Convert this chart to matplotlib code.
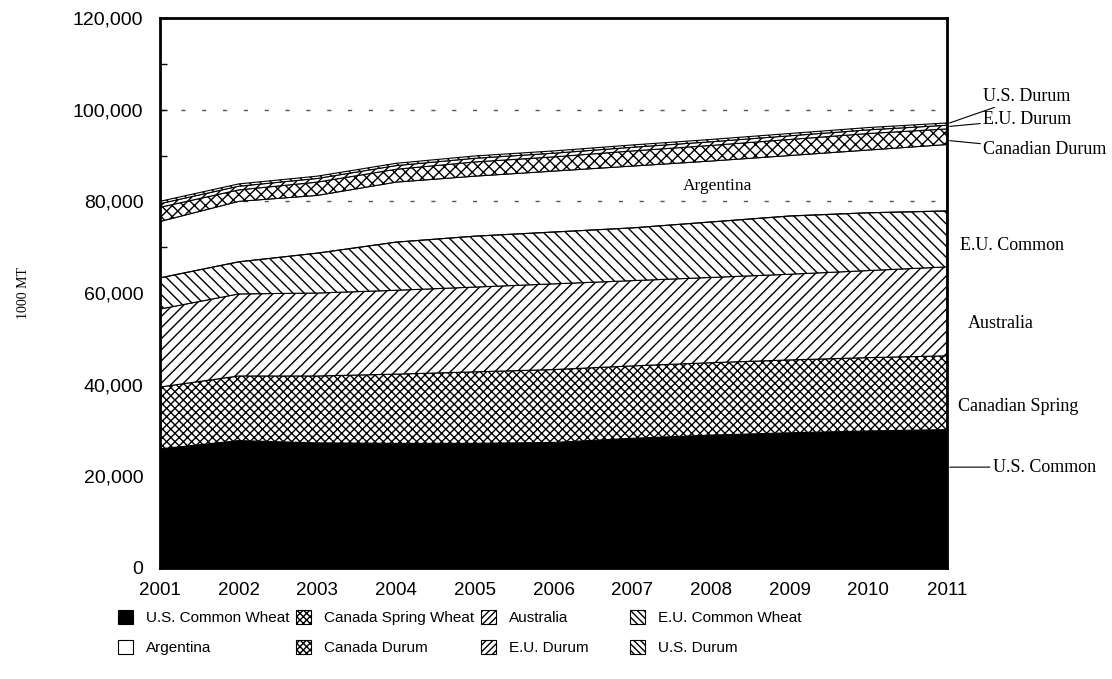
import numpy as np
import matplotlib
matplotlib.use("Agg")
import matplotlib.pyplot as plt
from matplotlib.patches import Patch
from matplotlib.ticker import MultipleLocator, FuncFormatter

years = [2001, 2002, 2003, 2004, 2005, 2006, 2007, 2008, 2009, 2010, 2011]
us_common = [26000, 27800, 27300, 27200, 27200, 27400, 28300, 29000, 29500, 29900, 30200]
canada_spring = [13500, 14100, 14600, 15100, 15600, 15900, 15800, 15800, 15900, 16000, 16100]
australia = [17000, 17900, 18100, 18300, 18500, 18700, 18600, 18600, 18700, 19000, 19400]
eu_common = [6800, 7000, 8700, 10500, 11100, 11300, 11500, 12100, 12700, 12600, 12200]
argentina = [12300, 13200, 12600, 13100, 13100, 13300, 13500, 13300, 13200, 13700, 14500]
canada_durum = [3100, 2500, 2900, 2800, 3100, 3100, 3300, 3400, 3500, 3600, 3400]
eu_durum = [800, 800, 800, 800, 800, 800, 800, 800, 800, 800, 800]
us_durum = [500, 500, 500, 500, 500, 500, 500, 500, 500, 500, 500]

series = [
    ("U.S. Common Wheat", us_common, "black", "", ""),
    ("Canada Spring Wheat", canada_spring, "white", "xxxx", "xxxxx"),
    ("Australia", australia, "white", "///", "/////"),
    ("E.U. Common Wheat", eu_common, "white", "\\\\\\", "\\\\\\\\\\"),
    ("Argentina", argentina, "none", "", ""),
    ("Canada Durum", canada_durum, "white", "xxx", "xxxxx"),
    ("E.U. Durum", eu_durum, "white", "///", "/////"),
    ("U.S. Durum", us_durum, "white", "\\\\\\", "\\\\\\\\\\"),
]

plt.rcParams['hatch.linewidth'] = 1.0
plt.rcParams['hatch.color'] = 'black'

fig = plt.figure(figsize=(11.12, 6.79), dpi=100)
ax = fig.add_axes([160/1112, 1-568/679, 787/1112, 550/679])

x = np.array(years, dtype=float)
base = np.zeros(len(years))
handles = {}
for name, vals, fc, hatch, lh in series:
    top = base + np.array(vals, dtype=float)
    ax.fill_between(x, base, top, facecolor=fc, hatch=hatch, edgecolor='black',
                    linewidth=0.8, zorder=2)
    handles[name] = Patch(facecolor=('white' if fc == 'none' else fc), hatch=lh,
                          edgecolor='black', linewidth=0.8)
    base = top

ax.set_xlim(2001, 2011)
ax.set_ylim(0, 120000)
ax.set_xticks(years)
ax.set_xticklabels([str(y) for y in years])
ax.yaxis.set_major_locator(MultipleLocator(20000))
ax.yaxis.set_minor_locator(MultipleLocator(10000))
ax.yaxis.set_major_formatter(FuncFormatter(lambda v, p: f"{int(v):,}"))
ax.tick_params(axis='y', which='both', direction='in', length=5, width=1, pad=12,
               labelsize=14)
ax.tick_params(axis='x', length=0, pad=10, labelsize=13.5)
for lab in ax.get_xticklabels() + ax.get_yticklabels():
    lab.set_fontfamily('Liberation Sans')

for sp in ax.spines.values():
    sp.set_linewidth(2)
    sp.set_zorder(5)

for gy in [20000, 40000, 60000, 80000, 100000]:
    ax.axhline(gy, color='#555555', linewidth=1, linestyle=(0, (3, 12)), zorder=1)

ax.set_ylabel("1000 MT", fontfamily='Liberation Serif', fontsize=10, labelpad=31)

serif = dict(fontfamily='Liberation Serif', fontsize=13)
tot = base
ax.annotate("U.S. Durum", xy=(2011, tot[-1] - 200), xycoords='data',
            xytext=(1.046, 0.858), textcoords='axes fraction', va='center', ha='left',
            arrowprops=dict(arrowstyle='-', color='black', lw=0.8, shrinkA=0, shrinkB=2), **serif)
ax.annotate("E.U. Durum", xy=(2011, tot[-1] - 800), xycoords='data',
            xytext=(1.046, 0.816), textcoords='axes fraction', va='center', ha='left',
            arrowprops=dict(arrowstyle='-', color='black', lw=0.8, shrinkA=0, shrinkB=2), **serif)
ax.annotate("Canadian Durum", xy=(2011, 93300), xycoords='data',
            xytext=(1.046, 0.76), textcoords='axes fraction', va='center', ha='left',
            arrowprops=dict(arrowstyle='-', color='black', lw=0.8, shrinkA=0, shrinkB=2), **serif)
ax.annotate("U.S. Common", xy=(2011, 22000), xycoords='data',
            xytext=(1.058, 0.1836), textcoords='axes fraction', va='center', ha='left',
            arrowprops=dict(arrowstyle='-', color='black', lw=0.8, shrinkA=0, shrinkB=2), **serif)
ax.text(1.0165, 0.587, "E.U. Common", transform=ax.transAxes, va='center', ha='left', **serif)
ax.text(1.0267, 0.445, "Australia", transform=ax.transAxes, va='center', ha='left', **serif)
ax.text(1.014, 0.2945, "Canadian Spring", transform=ax.transAxes, va='center', ha='left', **serif)
ax.text(0.709, 0.6945, "Argentina", transform=ax.transAxes, va='center', ha='center',
        fontfamily='Liberation Serif', fontsize=12.5)

columns = [
    (118, ["U.S. Common Wheat", "Argentina"]),
    (296, ["Canada Spring Wheat", "Canada Durum"]),
    (481, ["Australia", "E.U. Durum"]),
    (630, ["E.U. Common Wheat", "U.S. Durum"]),
]
for xpx, names in columns:
    fig.legend([handles[n] for n in names], names, ncol=1, frameon=False,
               loc='upper left', bbox_to_anchor=(xpx/1112, 1-610/679),
               prop={'family': 'Liberation Sans', 'size': 11},
               handlelength=1.0, handleheight=1.0, handletextpad=0.85,
               labelspacing=1.0, borderaxespad=0, borderpad=0)

fig.savefig("out.png", dpi=100)
